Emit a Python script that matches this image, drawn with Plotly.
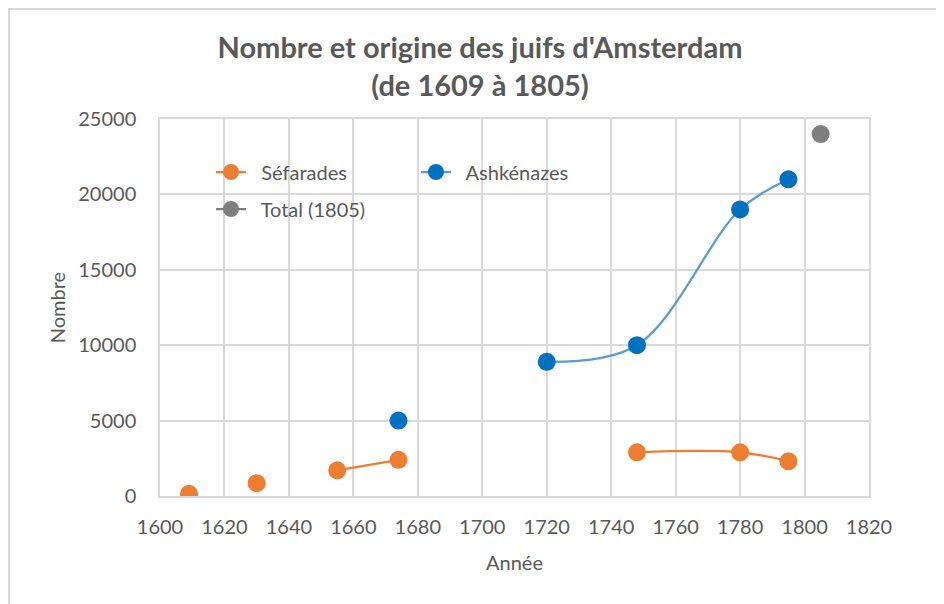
import plotly.graph_objects as go

# ---- data ----
years_sef = [1609, 1630, 1655, 1674, 1748, 1780, 1795]
sefarades = [150, 850, 1700, 2400, 2900, 2900, 2300]
sef_segment = [0, 1, 2, 2, 3, 3, 3]   # points sharing a segment id are joined

years_ash = [1674, 1720, 1748, 1780, 1795]
ashkenazes = [5000, 8900, 10000, 19000, 21000]
ash_segment = [0, 1, 1, 1, 1]

years_total = [1805]
total = [24000]

x_ticks = list(range(1600, 1821, 20))
y_ticks = list(range(0, 25001, 5000))
y_tick_text = [str(v) for v in y_ticks]


def with_gaps(xs, ys, seg):
    ox, oy = [], []
    for i, (a, b) in enumerate(zip(xs, ys)):
        if i > 0 and seg[i] != seg[i - 1]:
            ox.append(None)
            oy.append(None)
        ox.append(a)
        oy.append(b)
    return ox, oy


FONT = "Lato"
TXT = "#595959"
GRID = "#D9D9D9"
NB = "\u00a0\u00a0"

fig = go.Figure()
sx, sy = with_gaps(years_sef, sefarades, sef_segment)
fig.add_trace(go.Scatter(
    x=sx, y=sy, name=NB + "Séfarades", mode="lines+markers",
    line=dict(color="#ED7D31", width=2.25, shape="spline", smoothing=1),
    marker=dict(color="#ED7D31", size=18), connectgaps=False, legend="legend"))
ax, ay = with_gaps(years_ash, ashkenazes, ash_segment)
fig.add_trace(go.Scatter(
    x=ax, y=ay, name=NB + "Ashkénazes", mode="lines+markers",
    line=dict(color="#5B9BD5", width=2.25, shape="spline", smoothing=1),
    marker=dict(color="#0070C0", size=18), connectgaps=False, legend="legend"))
fig.add_trace(go.Scatter(
    x=years_total, y=total, name=NB + "Total (1805)", mode="lines+markers",
    line=dict(color="#7F7F7F", width=2.25),
    marker=dict(color="#7F7F7F", size=18), legend="legend2"))

OFF = 8  # page body margin
W, H = 944 - OFF, 604 - OFF
L, R, T, B = 160 - OFF, 75, 119 - OFF, 108
PW, PH = W - L - R, H - T - B


def px(xw):
    return (xw - OFF - L) / PW


def py(yw):
    return (H - B - (yw - OFF)) / PH


fig.update_layout(
    width=W, height=H,
    margin=dict(l=L, r=R, t=T, b=B),
    paper_bgcolor="white", plot_bgcolor="white",
    font=dict(family=FONT, color=TXT, size=20),
    title=dict(text="Nombre et origine des juifs d'Amsterdam<br>(de 1609 à 1805)",
               x=(480 - OFF) / W, xanchor="center", xref="container",
               y=1 - 50 / H, yanchor="top", yref="container",
               font=dict(family=FONT, size=29, color=TXT, weight="bold")),
    xaxis=dict(range=[1600, 1820], tickvals=x_ticks, showgrid=True, gridcolor=GRID,
               gridwidth=1.5, zeroline=False, showline=True, linecolor=GRID,
               linewidth=1.5, mirror=True, ticks="", ticklabelstandoff=12,
               title=dict(text="Année", standoff=19, font=dict(size=20))),
    yaxis=dict(range=[0, 25000], tickvals=y_ticks, ticktext=y_tick_text, showgrid=True,
               gridcolor=GRID, gridwidth=1.5, zeroline=False, showline=True,
               linecolor=GRID, linewidth=1.5, mirror=True, ticks="", ticklabelstandoff=18,
               title=dict(text="Nombre", standoff=7, font=dict(size=20))),
    legend=dict(orientation="h", x=px(211), xanchor="left", y=py(172), yanchor="middle",
                bgcolor="rgba(0,0,0,0)", entrywidth=160, font=dict(size=20, color=TXT)),
    legend2=dict(orientation="h", x=px(211), xanchor="left", y=py(209), yanchor="middle",
                 bgcolor="rgba(0,0,0,0)", font=dict(size=20, color=TXT)),
    shapes=[
        dict(type="rect", xref="paper", yref="paper", x0=px(185), x1=px(593),
             y0=py(227), y1=py(153), fillcolor="white", line=dict(width=0), layer="between"),
        dict(type="rect", xref="paper", yref="paper", x0=px(9), x1=px(980),
             y0=py(640), y1=py(9), fillcolor="rgba(0,0,0,0)",
             line=dict(color=GRID, width=2), layer="below"),
    ],
)

fig.write_html("out.html")
